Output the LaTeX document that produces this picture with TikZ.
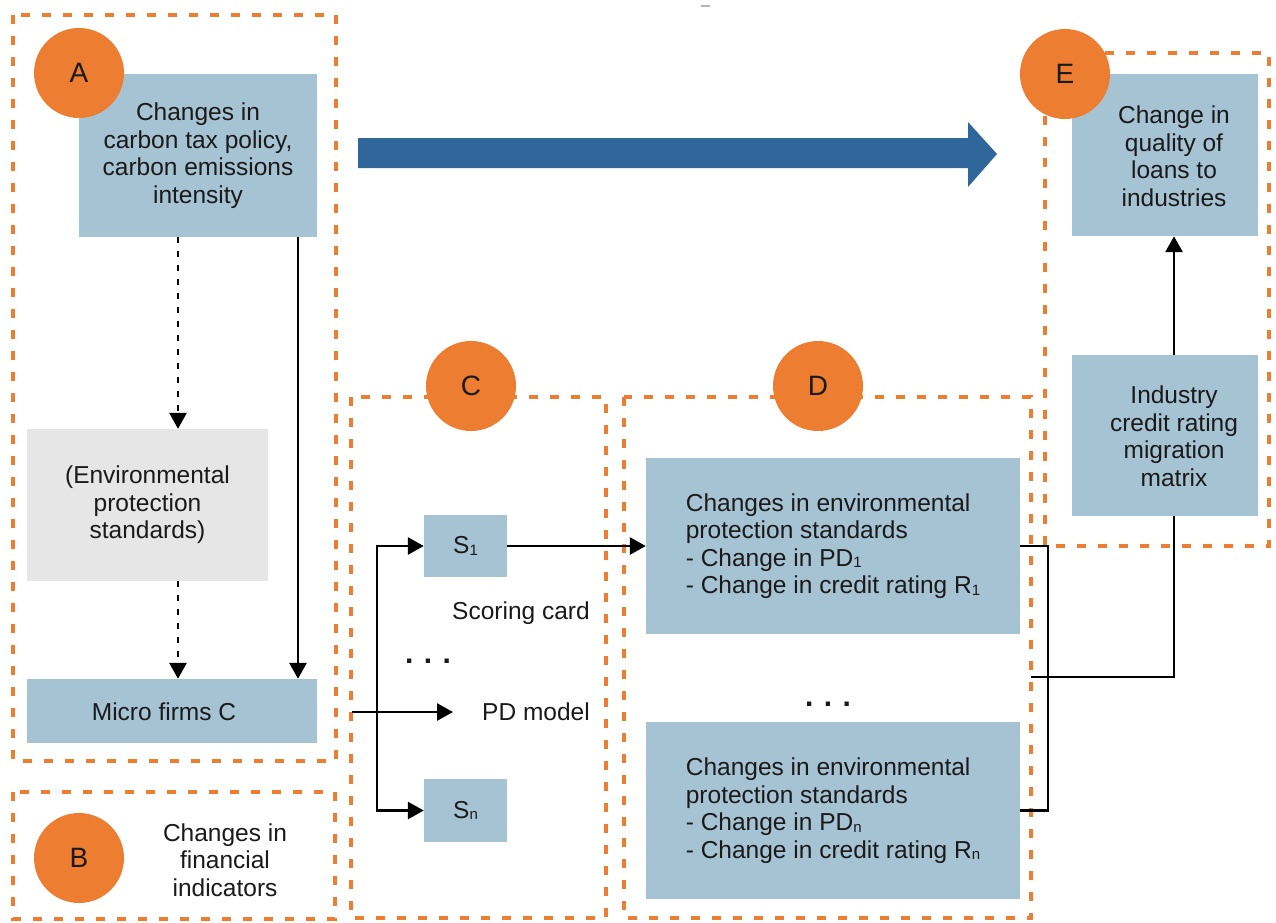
\documentclass[tikz,border=0pt]{standalone}
\usepackage{fontspec}
\setmainfont{Liberation Sans}
\usetikzlibrary{arrows.meta}
\definecolor{boxblue}{HTML}{A6C3D4}
\definecolor{boxgray}{HTML}{E6E6E6}
\definecolor{accent}{HTML}{ED7D31}
\definecolor{flow}{HTML}{31669A}
\definecolor{ink}{HTML}{1A1A1A}
% small index digit/letter sitting on the baseline
\newcommand{\idx}[1]{\raisebox{-1.5pt}{\fontsize{15}{15}\selectfont #1}}
\newcommand{\threedots}{{\fontsize{30}{30}\selectfont\bfseries .\hspace{10.5pt}.\hspace{10.5pt}.}}

\begin{document}
\begin{tikzpicture}[x=1pt,y=-1pt,
  every node/.style={font=\fontsize{24.5}{27.5}\selectfont, text=ink},
  panel/.style={rectangle, draw=none, inner sep=0pt, align=center},
  bluepanel/.style={panel, fill=boxblue},
  graypanel/.style={panel, fill=boxgray},
  region/.style={draw=accent, line width=4pt, dash pattern=on 9pt off 12pt},
  badge/.style={circle, fill=accent, inner sep=0pt, minimum size=90pt,
                font=\fontsize{28}{28}\selectfont},
  link/.style={draw=black, line width=2.8pt},
  arr/.style={link, -{Triangle[length=16pt,width=17pt]}},
  dotarr/.style={arr, dash pattern=on 6pt off 8pt},
]
\fill[white] (0,0) rectangle (1276,922);
\useasboundingbox (0,0) rectangle (1276,922);

% dashed regions
\draw[region] (13,15) rectangle (336,761);
\draw[region] (13,792) rectangle (335,919);
\draw[region] (351,397) rectangle (606,918);
\draw[region] (624,397) rectangle (1031,918);
\draw[region] (1045,53) rectangle (1269,546);

% small mark at the top edge
\draw[gray!60, line width=1.5pt] (701,6) -- (710,6);

% region A
\node[bluepanel, minimum width=238pt, minimum height=163pt] (boxA) at (198,155.5)
  {Changes in\\carbon tax policy,\\carbon emissions\\intensity};
\node[graypanel, minimum width=241pt, minimum height=152pt] (gray) at (147.5,505)
  {(Environmental\\protection\\standards)};
\node[bluepanel, minimum width=290pt, minimum height=64pt] (micro) at (172,711) {};
\node (microtxt) at (164,712) {Micro firms C};

% region B
\node[align=center] (btxt) at (225,860) {Changes in\\financial\\indicators};

% region C
\node[bluepanel, minimum width=83pt, minimum height=62pt] (s1) at (465.5,546) {S\idx{1}};
\node[bluepanel, minimum width=83pt, minimum height=63pt] (sn) at (465.5,810.5) {S\idx{n}};
\node (score) at (521,613) {Scoring card};
\node (cdots) at (428,661) {\threedots};
\node (pd) at (536,712) {PD model};

% region D
\node[bluepanel, minimum width=374pt, minimum height=176pt, align=left] (d1) at (833,546)
  {Changes in environmental\\protection standards\\- Change in PD\idx{1}\\- Change in credit rating R\idx{1}};
\node[bluepanel, minimum width=374pt, minimum height=177pt, align=left] (dn) at (833,810.5)
  {Changes in environmental\\protection standards\\- Change in PD\idx{n}\\- Change in credit rating R\idx{n}};
\node (ddots) at (828,704) {\threedots};

% region E
\node[bluepanel, minimum width=186pt, minimum height=162pt] (e1) at (1165,155) {};
\node[align=center] (e1txt) at (1174,156) {Change in\\quality of\\loans to\\industries};
\node[bluepanel, minimum width=186pt, minimum height=161pt] (e2) at (1165,435.5) {};
\node[align=center] (e2txt) at (1174,436) {Industry\\credit rating\\migration\\matrix};

% guide coordinates for connectors
\coordinate (dx) at (178,0);
\coordinate (sx) at (298,0);
\coordinate (pdin) at (352,712);
\coordinate (fork) at (377,712);
\coordinate (pdtip) at (453,712);
\coordinate (brk) at (1048,0);
\coordinate (join) at (1031,677);
\coordinate (ex) at (1174,0);

% connectors
\draw[dotarr] (dx |- boxA.south) -- (dx |- gray.north);
\draw[dotarr] (dx |- gray.south) -- (dx |- micro.north);
\draw[arr] (sx |- boxA.south) -- (sx |- micro.north);
\draw[arr] (pdin) -- (pdtip);
\draw[arr] (fork) |- (s1.west);
\draw[arr] (fork) |- (sn.west);
\draw[arr] (s1.east) -- (d1.west |- s1.east);
\draw[link] (d1.east) -- (brk |- d1.east) -- (brk |- dn.east) -- (dn.east);
\draw[link] (join) -| (ex |- e2.south);
\draw[arr] (ex |- e2.north) -- (ex |- e1.south);

% broad flow arrow
\fill[flow] (358,138) -- (968,138) -- (968,122) -- (997,154) -- (968,187)
  -- (968,168) -- (358,168) -- cycle;

% badges
\node[badge] (ba) at (79,73) {A};
\node[badge] (bb) at (79,858) {B};
\node[badge] (bc) at (471,386) {C};
\node[badge] (bd) at (818,386) {D};
\node[badge] (be) at (1065,74) {E};
\end{tikzpicture}
\end{document}
